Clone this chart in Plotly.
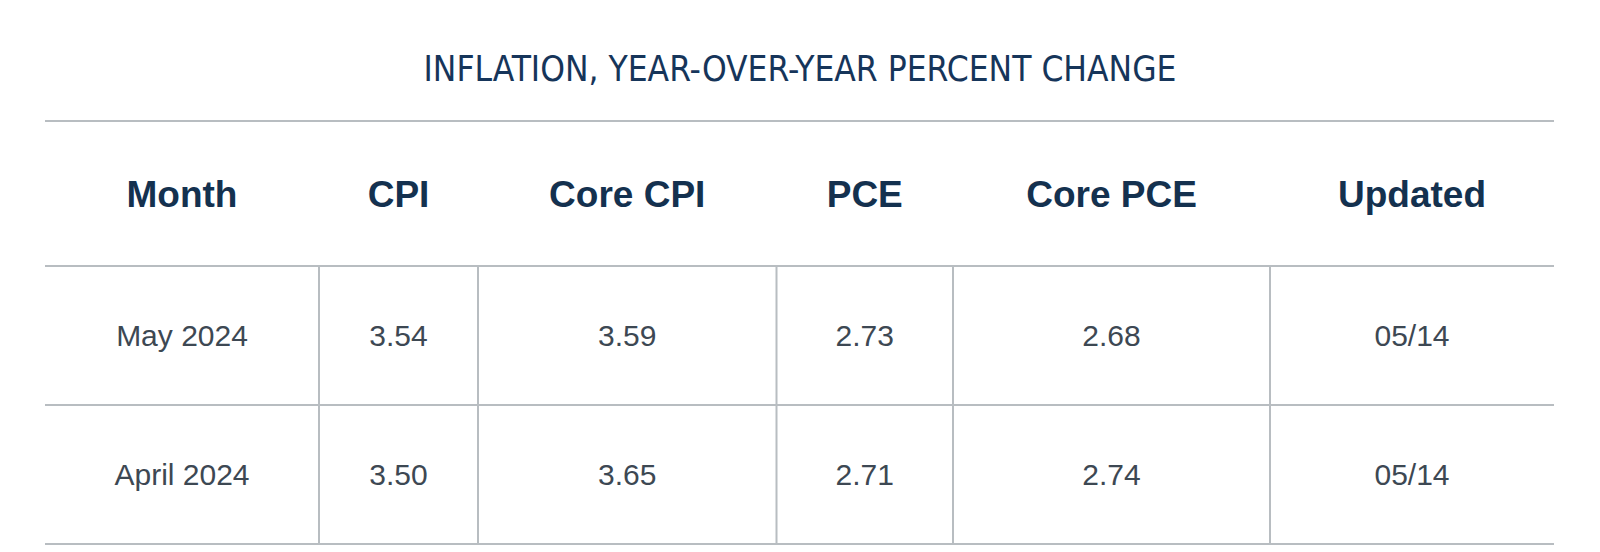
import plotly.graph_objects as go

# ---- data ----
headers = ["Month", "CPI", "Core CPI", "PCE", "Core PCE", "Updated"]
months = ["May 2024", "April 2024"]
cpi = [3.54, 3.50]
core_cpi = [3.59, 3.65]
pce = [2.73, 2.71]
core_pce = [2.68, 2.74]
updated = ["05/14", "05/14"]
title_text = "INFLATION, YEAR-OVER-YEAR PERCENT CHANGE"

# ---- layout geometry (screen pixels of a 1600x552 window) ----
W, H = 1600, 552
PAGE_MARGIN = 8  # default body margin of the html page
table_left = 45
col_widths = [274, 159, 298.5, 176.5, 317, 284]
header_top = 121
header_h = 145
row_h = 139
TEXT_NUDGE = 3  # visual centring of text within cells

NAVY = "#14314f"
TITLE = "#16355a"
BODY = "#3d4853"
LINE = "#b8bdc1"

bounds = [table_left]
for w in col_widths:
    bounds.append(bounds[-1] + w)
centers = [(bounds[i] + bounds[i + 1]) / 2 for i in range(len(col_widths))]
table_right = bounds[-1]
header_bottom = header_top + header_h
row_tops = [header_bottom + i * row_h for i in range(len(months))]
row_centers = [t + row_h / 2 + TEXT_NUDGE for t in row_tops]
table_bottom = row_tops[-1] + row_h

columns = [
    months,
    [f"{v:.2f}" for v in cpi],
    [f"{v:.2f}" for v in core_cpi],
    [f"{v:.2f}" for v in pce],
    [f"{v:.2f}" for v in core_pce],
    updated,
]

fig = go.Figure()

# header text
fig.add_trace(go.Scatter(
    x=centers, y=[header_top + header_h / 2 + 1 + TEXT_NUDGE] * len(headers),
    text=[f"<b>{h}</b>" for h in headers], mode="text",
    textposition="middle center",
    textfont=dict(family="Liberation Sans, Arial, sans-serif", size=37, color=NAVY),
    hoverinfo="skip", showlegend=False,
))

# body cells
for ci, col in enumerate(columns):
    fig.add_trace(go.Scatter(
        x=[centers[ci]] * len(col), y=row_centers,
        text=col, mode="text", textposition="middle center",
        textfont=dict(family="Liberation Sans, Arial, sans-serif", size=30, color=BODY),
        hoverinfo="skip", showlegend=False,
    ))

shapes = []
line_style = dict(color=LINE, width=2)
# horizontal rules
for yv in [header_top, header_bottom] + row_tops[1:] + [table_bottom]:
    shapes.append(dict(type="line", xref="x", yref="y", x0=table_left, x1=table_right,
                       y0=yv, y1=yv, line=line_style, layer="below"))
# interior vertical rules (body only)
for xv in bounds[1:-1]:
    shapes.append(dict(type="line", xref="x", yref="y", x0=xv, x1=xv,
                       y0=header_bottom, y1=table_bottom, line=line_style, layer="below"))

fig_w, fig_h = W - PAGE_MARGIN, H - PAGE_MARGIN
title_y_screen = 69

fig.update_layout(
    width=fig_w, height=fig_h,
    margin=dict(l=0, r=0, t=0, b=0),
    paper_bgcolor="white", plot_bgcolor="white",
    shapes=shapes,
    title=dict(text=title_text, x=0.5 - PAGE_MARGIN / 2 / fig_w, xanchor="center",
               y=1 - (title_y_screen - PAGE_MARGIN) / fig_h, yanchor="middle",
               font=dict(family="DejaVu Sans Condensed, Liberation Sans Narrow, sans-serif",
                         size=35, color=TITLE)),
    xaxis=dict(range=[PAGE_MARGIN, W], visible=False, fixedrange=True),
    yaxis=dict(range=[H, PAGE_MARGIN], visible=False, fixedrange=True),
)

fig.write_html("out.html")
